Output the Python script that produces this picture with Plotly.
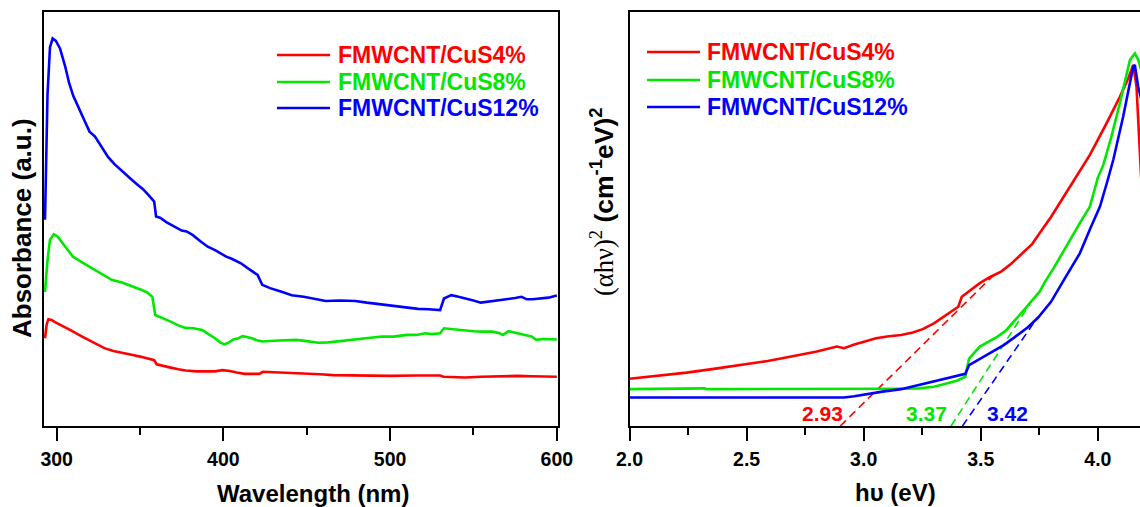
import plotly.graph_objects as go

# ---------------- data ----------------
# Left panel: absorbance (arbitrary units) vs wavelength (nm)
wl_red = [293.0, 294.0, 295.0, 297.0, 299.0, 302.0, 308.0, 315.3, 322.0, 328.6, 334.0, 339.6, 345.0, 350.7,
          355.0, 358.5, 360.0, 364.0, 368.4, 373.0, 377.3, 384.0, 390.6, 395.0, 399.4, 404.0, 408.0, 412.7,
          417.0, 421.6, 423.7, 430.0, 436.0, 443.6, 450.0, 458.0, 465.8, 475.0, 487.9, 500.0, 515.0, 530.0,
          532.0, 536.7, 545.0, 554.4, 565.0, 576.6, 585.0, 592.0, 600.0]
abs_red = [0.212, 0.245, 0.258, 0.256, 0.251, 0.244, 0.232, 0.216, 0.201, 0.188, 0.181, 0.177, 0.172, 0.167,
           0.163, 0.159, 0.149, 0.146, 0.141, 0.137, 0.134, 0.132, 0.131, 0.132, 0.135, 0.133, 0.129, 0.126,
           0.126, 0.126, 0.131, 0.130, 0.130, 0.129, 0.127, 0.125, 0.123, 0.122, 0.121, 0.121, 0.122, 0.122,
           0.119, 0.118, 0.117, 0.119, 0.120, 0.121, 0.120, 0.119, 0.119]

wl_green = [293.0, 294.5, 296.0, 298.3, 300.5, 303.1, 306.0, 309.8, 314.5, 319.7, 326.0, 333.0, 339.6, 345.0,
            350.7, 354.5, 357.4, 359.1, 363.0, 368.4, 373.0, 377.3, 382.0, 387.3, 391.0, 395.0, 398.0, 400.5,
            403.0, 406.0, 409.0, 411.6, 414.0, 417.1, 420.0, 423.7, 430.0, 436.0, 443.6, 450.0, 456.9, 463.0,
            472.4, 480.0, 487.9, 495.0, 502.0, 510.0, 516.0, 521.0, 525.0, 530.0, 532.3, 536.7, 541.0, 545.6,
            550.0, 555.0, 561.0, 565.0, 567.7, 571.0, 575.0, 581.0, 585.0, 587.6, 592.0, 596.0, 600.0]
abs_green = [0.324, 0.400, 0.450, 0.463, 0.458, 0.445, 0.428, 0.409, 0.397, 0.385, 0.369, 0.353, 0.346, 0.338,
             0.329, 0.322, 0.312, 0.268, 0.262, 0.252, 0.243, 0.237, 0.236, 0.232, 0.222, 0.212, 0.202, 0.197,
             0.201, 0.209, 0.212, 0.217, 0.215, 0.212, 0.207, 0.204, 0.206, 0.207, 0.208, 0.205, 0.201, 0.202,
             0.206, 0.209, 0.213, 0.216, 0.216, 0.220, 0.220, 0.224, 0.222, 0.224, 0.236, 0.234, 0.232, 0.230,
             0.229, 0.228, 0.228, 0.225, 0.220, 0.229, 0.226, 0.220, 0.216, 0.208, 0.210, 0.210, 0.209]

wl_blue = [293.0, 294.5, 296.0, 297.6, 299.5, 302.0, 305.0, 307.5, 310.0, 313.0, 316.5, 319.7, 323.0, 326.5,
           330.8, 334.5, 338.5, 342.0, 345.2, 348.5, 351.8, 355.0, 358.5, 359.6, 362.0, 366.0, 370.6, 375.0,
           378.0, 381.7, 386.0, 390.6, 395.0, 398.0, 401.7, 405.0, 410.5, 415.0, 420.5, 423.3, 428.0, 434.9,
           441.0, 448.2, 455.0, 461.4, 470.0, 479.2, 486.0, 492.4, 499.0, 505.7, 511.0, 516.8, 523.0, 530.0,
           532.3, 536.7, 541.0, 545.6, 550.0, 554.4, 558.0, 563.3, 570.0, 575.0, 578.8, 582.0, 585.4, 590.0,
           595.0, 600.0]
abs_blue = [0.498, 0.800, 0.915, 0.936, 0.930, 0.912, 0.870, 0.828, 0.797, 0.771, 0.740, 0.711, 0.699, 0.676,
            0.650, 0.633, 0.618, 0.604, 0.594, 0.583, 0.572, 0.558, 0.542, 0.506, 0.503, 0.492, 0.481, 0.472,
            0.470, 0.461, 0.447, 0.433, 0.425, 0.418, 0.409, 0.404, 0.393, 0.380, 0.365, 0.341, 0.333, 0.324,
            0.316, 0.312, 0.307, 0.302, 0.303, 0.302, 0.298, 0.295, 0.293, 0.290, 0.287, 0.283, 0.282, 0.280,
            0.308, 0.316, 0.312, 0.308, 0.303, 0.298, 0.300, 0.302, 0.305, 0.309, 0.312, 0.306, 0.306, 0.308,
            0.310, 0.315]

# Right panel: (alpha h nu)^2 (arbitrary units) vs photon energy (eV)
hv_red = [2.000, 2.120, 2.244, 2.360, 2.473, 2.590, 2.702, 2.800, 2.885, 2.916, 2.960, 3.053, 3.100, 3.160,
          3.210, 3.252, 3.300, 3.343, 3.380, 3.404, 3.419, 3.460, 3.496, 3.540, 3.587, 3.630, 3.679, 3.720,
          3.752, 3.800, 3.852, 3.910, 3.966, 4.037, 4.094, 4.130, 4.151, 4.165, 4.185]
tauc_red = [0.114, 0.121, 0.129, 0.138, 0.147, 0.157, 0.169, 0.180, 0.192, 0.188, 0.197, 0.212, 0.216, 0.220,
            0.226, 0.234, 0.248, 0.264, 0.278, 0.288, 0.312, 0.330, 0.345, 0.360, 0.373, 0.392, 0.417, 0.440,
            0.466, 0.505, 0.552, 0.605, 0.655, 0.731, 0.795, 0.840, 0.872, 0.820, 0.600]

hv_green = [2.000, 2.200, 2.321, 2.330, 2.600, 2.800, 3.007, 3.150, 3.236, 3.300, 3.358, 3.400, 3.434, 3.450,
            3.496, 3.540, 3.572, 3.610, 3.648, 3.680, 3.709, 3.752, 3.771, 3.810, 3.847, 3.880, 3.923, 3.966,
            4.000, 4.023, 4.058, 4.094, 4.137, 4.158, 4.172, 4.185]
tauc_green = [0.089, 0.090, 0.091, 0.089, 0.089, 0.089, 0.089, 0.090, 0.091, 0.095, 0.103, 0.110, 0.119, 0.163,
              0.192, 0.205, 0.216, 0.232, 0.256, 0.275, 0.296, 0.325, 0.345, 0.380, 0.417, 0.448, 0.490, 0.530,
              0.600, 0.630, 0.699, 0.780, 0.884, 0.900, 0.885, 0.860]

hv_blue = [2.000, 2.400, 2.700, 2.916, 2.960, 3.007, 3.080, 3.160, 3.240, 3.313, 3.380, 3.434, 3.450, 3.500,
           3.546, 3.600, 3.648, 3.700, 3.745, 3.800, 3.852, 3.923, 3.970, 4.009, 4.040, 4.066, 4.108, 4.151,
           4.158, 4.172, 4.185]
tauc_blue = [0.069, 0.069, 0.069, 0.069, 0.072, 0.077, 0.083, 0.089, 0.100, 0.111, 0.119, 0.126, 0.147, 0.164,
             0.179, 0.196, 0.216, 0.238, 0.262, 0.300, 0.350, 0.417, 0.480, 0.530, 0.590, 0.643, 0.747, 0.868,
             0.872, 0.820, 0.790]

# Tangent (extrapolation) lines: [start, end]
tan_red_x, tan_red_y = [2.90, 3.569], [0.0, 0.372]
tan_green_x, tan_green_y = [3.373, 3.712], [0.0, 0.297]
tan_blue_x, tan_blue_y = [3.422, 3.742], [0.0, 0.262]

# Band-gap labels
gap_labels = ["2.93", "3.37", "3.42"]
gap_label_x = [2.825, 3.269, 3.616]
gap_label_y = [0.031, 0.031, 0.031]

series_names = ["FMWCNT/CuS4%", "FMWCNT/CuS8%", "FMWCNT/CuS12%"]
colors = ["#FF0000", "#00E800", "#0000FF"]

# ---------------- figure ----------------
W, H = 1140, 507
FONT = "Liberation Sans"

fig = go.Figure()

left_sets = [(wl_red, abs_red), (wl_green, abs_green), (wl_blue, abs_blue)]
right_sets = [(hv_red, tauc_red), (hv_green, tauc_green), (hv_blue, tauc_blue)]
tangents = [(tan_red_x, tan_red_y), (tan_green_x, tan_green_y), (tan_blue_x, tan_blue_y)]

for name, (x, y), c in zip(series_names, left_sets, colors):
    fig.add_trace(go.Scatter(x=x, y=y, mode="lines", name=name, line=dict(color=c, width=2.6),
                             xaxis="x", yaxis="y", showlegend=False, hoverinfo="skip"))
for (x, y), c in zip(tangents, colors):
    fig.add_trace(go.Scatter(x=x, y=y, mode="lines", line=dict(color=c, width=1.6, dash="8px,5px"),
                             xaxis="x2", yaxis="y2", showlegend=False, hoverinfo="skip"))
for name, (x, y), c in zip(series_names, right_sets, colors):
    fig.add_trace(go.Scatter(x=x, y=y, mode="lines", name=name, line=dict(color=c, width=2.6),
                             xaxis="x2", yaxis="y2", showlegend=False, hoverinfo="skip"))

def px_x(p):
    return p / W

def px_y(p):
    return 1 - p / H

tickfont = dict(family=FONT, size=19.5, color="black", weight="bold")
axis_common = dict(showline=True, linecolor="black", linewidth=2, showgrid=False, zeroline=False,
                   automargin=False)

ydom = [px_y(426), px_y(12)]

fig.update_layout(
    width=W, height=H,
    margin=dict(l=0, r=0, t=0, b=0, pad=0, autoexpand=False),
    showlegend=False,
    paper_bgcolor="white", plot_bgcolor="white",
    xaxis=dict(domain=[px_x(43.5), px_x(557.5)], range=[292.1, 600.4], anchor="y", mirror=True,
               ticks="outside", ticklen=13, tickwidth=2, tickcolor="black", tick0=300, dtick=100,
               tickfont=tickfont, ticklabelstandoff=2,
               minor=dict(ticks="outside", ticklen=7, tickwidth=2, tickcolor="black", tick0=300, dtick=50),
               **axis_common),
    yaxis=dict(domain=ydom, range=[0, 1], anchor="x", mirror=True, ticks="", showticklabels=False,
               **axis_common),
    xaxis2=dict(domain=[px_x(629.5), 1.0], range=[2.0, 4.18], anchor="y2", mirror=True,
                ticks="outside", ticklen=13, tickwidth=2, tickcolor="black", tick0=2.0, dtick=0.5,
                tickformat=".1f", tickfont=tickfont, ticklabelstandoff=2,
                minor=dict(ticks="outside", ticklen=7, tickwidth=2, tickcolor="black", tick0=2.0, dtick=0.25),
                **axis_common),
    yaxis2=dict(domain=ydom, range=[0, 1], anchor="x2", mirror=False, ticks="", showticklabels=False,
                **axis_common),
)

annotations = []
# Axis titles
annotations.append(dict(text="Wavelength (nm)", x=px_x(312.5), y=px_y(493), xref="paper", yref="paper",
                        showarrow=False, xanchor="center", yanchor="middle",
                        font=dict(family=FONT, size=24, color="black", weight="bold")))
annotations.append(dict(text="hυ (eV)", x=px_x(895), y=px_y(492), xref="paper", yref="paper",
                        showarrow=False, xanchor="center", yanchor="middle",
                        font=dict(family=FONT, size=24, color="black", weight="bold")))
annotations.append(dict(text="Absorbance (a.u.)", x=px_x(22), y=px_y(228), xref="paper", yref="paper",
                        showarrow=False, xanchor="center", yanchor="middle", textangle=-90,
                        font=dict(family=FONT, size=26, color="black", weight="bold")))
annotations.append(dict(
    text='<span style="font-family:Liberation Serif;font-weight:normal">(αhν)<sup>2</sup></span>'
         ' (cm<sup>-1</sup>eV)<sup>2</sup>',
    x=px_x(602), y=px_y(202), xref="paper", yref="paper", showarrow=False,
    xanchor="center", yanchor="middle", textangle=-90,
    font=dict(family=FONT, size=26.5, color="black", weight="bold")))

# Band-gap value labels
for t, x, y, c in zip(gap_labels, gap_label_x, gap_label_y, colors):
    annotations.append(dict(text=t, x=x, y=y, xref="x2", yref="y2", showarrow=False,
                            xanchor="center", yanchor="middle",
                            font=dict(family=FONT, size=21, color=c, weight="bold")))

# Legends (drawn manually to match the reference layout)
shapes = []
legend_left_rows = [55, 82, 108]
legend_right_rows = [52, 80, 107]
for rows, lx0, lx1, tx in [(legend_left_rows, 277, 330, 336), (legend_right_rows, 647, 700, 705)]:
    for name, c, r in zip(series_names, colors, rows):
        shapes.append(dict(type="line", xref="paper", yref="paper", x0=px_x(lx0), x1=px_x(lx1),
                           y0=px_y(r), y1=px_y(r), line=dict(color=c, width=2.6)))
        annotations.append(dict(text=name, x=px_x(tx), y=px_y(r), xref="paper", yref="paper",
                                showarrow=False, xanchor="left", yanchor="middle",
                                font=dict(family=FONT, size=23, color=c, weight="bold")))

fig.update_layout(annotations=annotations, shapes=shapes)

fig.write_html("out.html")
